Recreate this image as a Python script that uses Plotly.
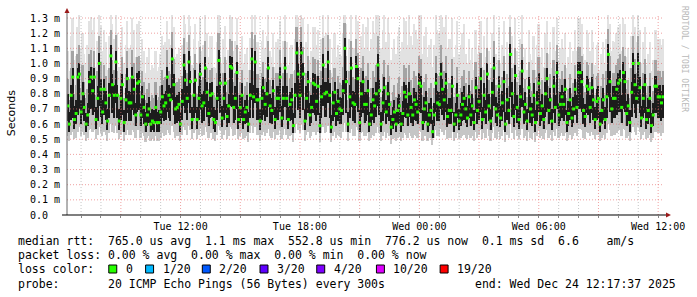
import plotly.graph_objects as go
from datetime import datetime, timedelta

# ---------------- data (values in milliseconds) ----------------
end_time = datetime(2025, 12, 24, 12, 17, 37)
step_s = 300
n_steps = 360
start_time = end_time - timedelta(seconds=step_s * n_steps)

rtt_median = [
    0.72,0.60,0.79,0.91,0.63,0.67,0.91,0.93,0.68,0.80,
    0.71,0.60,0.66,0.88,0.91,0.82,0.91,0.63,0.77,1.00,
    0.83,0.68,0.83,0.74,0.62,0.79,1.05,0.86,0.79,1.01,
    0.79,0.62,0.77,0.86,0.61,0.76,0.90,0.74,0.74,0.91,
    0.83,0.66,0.87,0.88,0.66,0.78,0.71,0.60,0.66,0.70,
    0.60,0.62,0.61,0.71,0.61,0.61,0.68,0.78,0.72,0.74,
    0.91,0.79,0.76,1.03,0.86,0.70,0.71,0.73,0.60,0.75,
    0.99,0.89,0.77,1.01,0.88,0.63,0.79,0.89,0.63,0.77,
    0.93,0.72,0.74,0.97,0.81,0.67,0.79,0.80,0.63,0.61,
    0.77,1.02,0.87,0.64,0.77,0.87,0.65,0.72,0.98,0.97,
    0.71,0.77,0.94,0.63,0.71,0.79,0.63,0.68,0.71,0.60,
    0.79,1.03,0.78,1.01,0.76,0.76,0.62,0.77,0.84,0.73,
    0.80,0.97,0.72,0.69,0.82,0.63,0.77,0.77,0.91,0.64,
    0.77,0.97,0.77,0.63,0.73,0.76,0.59,0.79,1.07,0.93,
    0.79,1.07,0.93,0.62,0.77,0.88,0.66,0.71,0.87,0.86,
    0.75,0.85,0.59,0.78,0.99,0.80,0.81,1.01,0.79,0.58,
    0.74,0.81,0.67,0.75,0.70,0.69,0.82,1.10,0.88,0.60,
    0.78,0.97,0.74,0.73,0.98,0.90,0.61,0.80,0.88,0.73,
    0.73,0.82,0.60,0.66,0.76,0.72,0.80,0.99,0.82,0.60,
    0.74,0.84,0.68,0.80,0.73,0.58,0.63,0.68,0.60,0.69,
    0.72,0.60,0.67,0.81,0.78,0.66,0.80,0.71,0.66,0.76,
    0.73,0.68,0.87,0.85,0.61,0.70,0.74,0.60,0.66,0.69,
    0.55,0.66,0.87,0.74,0.73,0.93,0.83,0.76,0.87,0.65,
    0.69,0.69,0.85,0.60,0.66,0.79,0.62,0.66,0.73,0.77,
    0.70,0.64,0.78,0.66,0.72,0.61,0.84,0.69,0.75,0.90,
    0.63,0.79,0.68,0.93,0.72,0.62,0.81,0.97,0.70,0.66,
    0.85,0.64,0.74,0.88,0.60,0.76,0.69,1.06,0.80,0.65,
    0.92,0.71,0.63,0.78,0.95,0.68,0.73,0.62,0.84,0.70,
    0.66,0.79,0.61,0.74,0.87,0.67,0.72,0.63,0.80,0.90,
    0.69,0.76,0.62,0.85,0.71,0.94,0.66,0.73,0.78,0.73,
    0.83,0.61,0.67,0.76,0.64,0.70,0.83,0.71,0.94,0.94,
    0.88,0.69,0.65,0.85,0.83,0.71,0.84,0.76,0.63,0.75,
    0.77,0.60,0.69,0.76,0.63,0.78,1.06,0.88,0.70,0.77,
    0.77,0.83,0.87,0.89,0.71,0.94,0.88,0.67,0.72,0.61,
    0.81,1.00,0.86,0.77,1.00,0.84,0.64,0.77,0.86,0.63,
    0.69,0.77,0.59,0.66,0.85,0.85,0.78,0.78,0.74,0.78,
]

core_low = [
    0.62,0.55,0.63,0.64,0.57,0.60,0.66,0.70,0.60,0.66,
    0.62,0.55,0.59,0.67,0.70,0.66,0.68,0.57,0.62,0.72,
    0.65,0.60,0.66,0.63,0.56,0.64,0.78,0.67,0.64,0.74,
    0.64,0.56,0.63,0.66,0.55,0.62,0.67,0.62,0.62,0.69,
    0.66,0.59,0.68,0.69,0.59,0.64,0.60,0.55,0.59,0.61,
    0.55,0.56,0.55,0.61,0.55,0.55,0.60,0.64,0.62,0.63,
    0.68,0.64,0.62,0.76,0.66,0.60,0.61,0.62,0.55,0.63,
    0.72,0.67,0.63,0.74,0.67,0.57,0.64,0.67,0.57,0.63,
    0.69,0.61,0.62,0.71,0.65,0.59,0.64,0.65,0.57,0.55,
    0.63,0.75,0.67,0.58,0.63,0.67,0.58,0.61,0.72,0.71,
    0.61,0.63,0.70,0.57,0.61,0.64,0.57,0.60,0.61,0.55,
    0.64,0.76,0.64,0.74,0.63,0.63,0.56,0.63,0.66,0.62,
    0.65,0.71,0.61,0.60,0.66,0.57,0.63,0.63,0.68,0.58,
    0.63,0.71,0.63,0.57,0.62,0.63,0.54,0.64,0.78,0.69,
    0.64,0.78,0.69,0.56,0.63,0.67,0.59,0.61,0.67,0.66,
    0.62,0.66,0.54,0.64,0.72,0.65,0.65,0.74,0.64,0.54,
    0.62,0.65,0.59,0.62,0.60,0.60,0.66,0.80,0.67,0.55,
    0.64,0.71,0.62,0.61,0.72,0.68,0.55,0.65,0.67,0.61,
    0.62,0.66,0.55,0.59,0.63,0.61,0.65,0.72,0.66,0.55,
    0.62,0.67,0.60,0.65,0.62,0.53,0.57,0.60,0.55,0.60,
    0.61,0.55,0.59,0.65,0.64,0.59,0.65,0.61,0.59,0.63,
    0.62,0.60,0.68,0.67,0.56,0.61,0.62,0.55,0.59,0.60,
    0.51,0.59,0.68,0.62,0.62,0.70,0.66,0.63,0.68,0.58,
    0.60,0.60,0.67,0.55,0.59,0.64,0.56,0.59,0.62,0.63,
    0.61,0.58,0.64,0.59,0.62,0.56,0.67,0.60,0.63,0.68,
    0.57,0.64,0.60,0.70,0.62,0.56,0.65,0.72,0.61,0.59,
    0.67,0.58,0.62,0.68,0.55,0.63,0.60,0.78,0.65,0.58,
    0.69,0.61,0.57,0.64,0.71,0.60,0.62,0.56,0.67,0.61,
    0.59,0.64,0.55,0.62,0.68,0.59,0.62,0.57,0.65,0.68,
    0.60,0.63,0.56,0.67,0.61,0.70,0.59,0.62,0.64,0.62,
    0.66,0.55,0.59,0.63,0.58,0.61,0.66,0.61,0.70,0.70,
    0.68,0.60,0.58,0.67,0.66,0.61,0.67,0.63,0.57,0.63,
    0.64,0.55,0.60,0.63,0.57,0.64,0.78,0.68,0.61,0.64,
    0.64,0.66,0.68,0.68,0.61,0.70,0.68,0.59,0.62,0.55,
    0.65,0.73,0.67,0.64,0.73,0.67,0.58,0.64,0.67,0.57,
    0.60,0.64,0.54,0.59,0.67,0.67,0.64,0.64,0.62,0.64,
]

core_high = [
    0.80,0.68,0.86,0.97,0.72,0.76,0.97,1.00,0.76,0.88,
    0.79,0.67,0.74,0.95,0.98,0.89,0.97,0.71,0.85,1.07,
    0.90,0.76,0.90,0.82,0.70,0.87,1.12,0.93,0.86,1.08,
    0.86,0.70,0.85,0.93,0.69,0.84,0.97,0.82,0.81,0.98,
    0.90,0.74,0.94,0.95,0.74,0.85,0.79,0.68,0.74,0.78,
    0.67,0.70,0.69,0.79,0.68,0.69,0.76,0.86,0.80,0.82,
    0.98,0.86,0.84,1.10,0.93,0.78,0.79,0.81,0.68,0.83,
    1.06,0.96,0.85,1.08,0.95,0.71,0.87,0.96,0.71,0.85,
    1.00,0.80,0.82,1.04,0.88,0.75,0.87,0.88,0.71,0.69,
    0.85,1.09,0.94,0.72,0.85,0.94,0.73,0.80,1.05,1.04,
    0.79,0.85,1.01,0.71,0.79,0.87,0.71,0.76,0.79,0.68,
    0.87,1.10,0.86,1.08,0.84,0.84,0.70,0.85,0.91,0.81,
    0.88,1.04,0.80,0.77,0.89,0.71,0.85,0.85,0.98,0.72,
    0.85,1.04,0.85,0.71,0.81,0.84,0.67,0.87,1.14,1.00,
    0.87,1.14,1.00,0.70,0.85,0.95,0.74,0.79,0.94,0.93,
    0.83,0.92,0.67,0.86,1.06,0.88,0.88,1.08,0.87,0.66,
    0.82,0.88,0.75,0.83,0.78,0.77,0.89,1.17,0.95,0.68,
    0.86,1.04,0.82,0.81,1.05,0.97,0.69,0.88,0.95,0.81,
    0.81,0.89,0.68,0.74,0.84,0.80,0.88,1.06,0.89,0.68,
    0.82,0.91,0.76,0.88,0.81,0.66,0.71,0.76,0.68,0.77,
    0.80,0.68,0.75,0.88,0.86,0.74,0.88,0.79,0.74,0.84,
    0.81,0.76,0.94,0.92,0.69,0.78,0.82,0.68,0.74,0.77,
    0.63,0.74,0.94,0.82,0.81,1.00,0.90,0.84,0.94,0.73,
    0.77,0.77,0.92,0.68,0.74,0.87,0.70,0.74,0.81,0.85,
    0.78,0.72,0.86,0.74,0.80,0.69,0.91,0.77,0.83,0.97,
    0.71,0.87,0.76,1.00,0.80,0.70,0.88,1.04,0.78,0.74,
    0.92,0.72,0.82,0.95,0.68,0.84,0.77,1.13,0.88,0.73,
    0.99,0.79,0.71,0.86,1.02,0.76,0.81,0.70,0.91,0.78,
    0.74,0.87,0.69,0.82,0.94,0.75,0.80,0.71,0.88,0.97,
    0.77,0.84,0.70,0.92,0.79,1.01,0.74,0.81,0.86,0.81,
    0.90,0.69,0.75,0.84,0.72,0.78,0.90,0.79,1.01,1.01,
    0.95,0.77,0.73,0.92,0.90,0.79,0.91,0.84,0.71,0.83,
    0.85,0.68,0.77,0.84,0.71,0.86,1.13,0.95,0.78,0.85,
    0.85,0.90,0.94,0.96,0.79,1.01,0.95,0.75,0.80,0.69,
    0.88,1.07,0.93,0.85,1.07,0.91,0.72,0.85,0.93,0.71,
    0.77,0.85,0.67,0.74,0.92,0.92,0.86,0.86,0.82,0.86,
]

smoke_upper = [
    0.90,0.76,0.97,1.08,0.80,0.86,1.06,1.12,0.84,0.99,
    0.88,0.77,0.83,1.06,1.09,0.98,1.08,0.79,0.95,1.18,
    1.01,0.84,0.99,0.92,0.78,0.97,1.22,1.02,0.96,1.19,
    0.95,0.79,0.94,1.04,0.77,0.93,1.08,0.90,0.91,1.09,
    1.00,0.83,1.04,1.05,0.82,0.95,0.88,0.76,0.83,0.87,
    0.75,0.79,0.77,0.88,0.76,0.78,0.85,0.96,0.89,0.91,
    1.09,0.95,0.93,1.21,1.03,0.87,0.88,0.90,0.76,0.92,
    1.17,1.06,0.94,1.19,1.05,0.79,0.97,1.06,0.80,0.94,
    1.11,0.89,0.91,1.15,0.97,0.83,0.96,0.97,0.79,0.77,
    0.94,1.20,1.04,0.80,0.94,1.04,0.81,0.89,1.16,1.15,
    0.88,0.94,1.12,0.79,0.88,0.96,0.79,0.85,0.88,0.76,
    0.96,1.21,0.95,1.19,0.93,0.93,0.78,0.94,1.01,0.90,
    0.97,1.15,0.89,0.85,0.98,0.79,0.94,0.94,1.09,0.80,
    0.94,1.15,0.94,0.79,0.90,0.93,0.75,0.96,1.24,1.11,
    0.96,1.24,1.11,0.78,0.94,1.05,0.82,0.88,1.04,1.03,
    0.92,1.02,0.75,0.95,1.17,0.97,0.97,1.19,0.96,0.74,
    0.91,0.97,0.83,0.92,0.87,0.86,0.98,1.27,1.05,0.76,
    0.95,1.15,0.91,0.90,1.16,1.07,0.77,0.97,1.05,0.90,
    0.92,1.00,0.78,0.84,0.95,0.91,0.99,1.18,1.00,0.78,
    0.93,1.02,0.86,0.99,0.92,0.75,0.81,0.86,0.78,0.87,
    0.91,0.78,0.85,0.99,0.97,0.84,0.99,0.89,0.84,0.95,
    0.92,0.86,1.05,1.03,0.79,0.88,0.93,0.78,0.84,0.87,
    0.72,0.84,1.05,0.93,0.92,1.12,1.01,0.95,1.05,0.83,
    0.87,0.87,1.03,0.78,0.84,0.98,0.80,0.84,0.92,0.96,
    0.87,0.80,0.95,0.82,0.89,0.77,1.01,0.86,0.92,1.07,
    0.79,0.96,0.84,1.10,0.89,0.78,0.97,1.15,0.86,0.82,
    1.02,0.80,0.91,1.05,0.76,0.93,0.85,1.24,0.97,0.81,
    1.10,0.88,0.79,0.95,1.13,0.84,0.90,0.78,1.01,0.87,
    0.82,0.96,0.77,0.91,1.04,0.83,0.89,0.79,0.97,1.07,
    0.85,0.93,0.78,1.02,0.88,1.12,0.82,0.90,0.95,0.90,
    0.99,0.77,0.83,0.93,0.80,0.87,0.99,0.88,1.11,1.11,
    1.05,0.85,0.81,1.01,0.99,0.88,1.00,0.93,0.79,0.92,
    0.94,0.76,0.85,0.93,0.79,0.95,1.23,1.05,0.87,0.94,
    0.94,0.99,1.03,1.06,0.88,1.11,1.05,0.83,0.89,0.77,
    0.97,1.18,1.03,0.94,1.18,1.01,0.80,0.94,1.03,0.79,
    0.85,0.94,0.75,0.82,1.02,1.02,0.95,0.95,0.91,0.95,
]

rtt_min = [
    0.52,0.49,0.53,0.55,0.50,0.51,0.55,0.58,0.52,0.55,
    0.53,0.49,0.51,0.56,0.57,0.55,0.56,0.50,0.53,0.58,
    0.54,0.52,0.55,0.53,0.49,0.54,0.60,0.55,0.54,0.59,
    0.54,0.50,0.53,0.55,0.49,0.53,0.56,0.53,0.53,0.56,
    0.55,0.51,0.56,0.56,0.51,0.54,0.52,0.48,0.51,0.52,
    0.49,0.50,0.49,0.52,0.49,0.49,0.51,0.54,0.52,0.53,
    0.56,0.54,0.53,0.59,0.55,0.51,0.52,0.52,0.49,0.53,
    0.58,0.56,0.53,0.59,0.56,0.50,0.54,0.56,0.50,0.53,
    0.57,0.52,0.53,0.58,0.55,0.51,0.54,0.54,0.50,0.49,
    0.53,0.59,0.56,0.50,0.53,0.56,0.50,0.52,0.58,0.57,
    0.52,0.53,0.57,0.50,0.52,0.54,0.50,0.51,0.52,0.48,
    0.54,0.59,0.54,0.58,0.53,0.53,0.49,0.53,0.55,0.52,
    0.54,0.57,0.52,0.51,0.55,0.50,0.53,0.53,0.56,0.50,
    0.53,0.57,0.53,0.50,0.52,0.53,0.48,0.54,0.60,0.56,
    0.54,0.60,0.56,0.49,0.53,0.55,0.51,0.52,0.55,0.55,
    0.53,0.55,0.48,0.54,0.58,0.54,0.55,0.59,0.54,0.48,
    0.52,0.55,0.51,0.53,0.52,0.51,0.55,0.61,0.55,0.49,
    0.54,0.57,0.52,0.52,0.58,0.56,0.49,0.54,0.55,0.52,
    0.52,0.54,0.49,0.51,0.53,0.52,0.54,0.58,0.54,0.49,
    0.52,0.55,0.51,0.54,0.52,0.47,0.50,0.51,0.49,0.51,
    0.52,0.49,0.51,0.54,0.53,0.51,0.54,0.52,0.51,0.53,
    0.52,0.51,0.56,0.55,0.49,0.52,0.52,0.49,0.51,0.51,
    0.46,0.51,0.56,0.52,0.52,0.57,0.55,0.53,0.56,0.50,
    0.51,0.51,0.55,0.49,0.51,0.54,0.50,0.51,0.52,0.53,
    0.51,0.50,0.53,0.51,0.52,0.49,0.55,0.51,0.53,0.56,
    0.50,0.54,0.51,0.57,0.52,0.49,0.54,0.58,0.51,0.50,
    0.55,0.50,0.52,0.56,0.48,0.53,0.51,0.60,0.54,0.50,
    0.56,0.52,0.50,0.53,0.57,0.51,0.52,0.49,0.55,0.51,
    0.50,0.54,0.48,0.52,0.56,0.51,0.52,0.50,0.54,0.56,
    0.51,0.53,0.49,0.55,0.52,0.57,0.51,0.52,0.54,0.52,
    0.54,0.49,0.51,0.53,0.50,0.52,0.54,0.52,0.57,0.57,
    0.56,0.51,0.50,0.55,0.54,0.52,0.55,0.53,0.50,0.53,
    0.53,0.49,0.51,0.53,0.50,0.54,0.60,0.56,0.52,0.53,
    0.53,0.54,0.56,0.56,0.52,0.57,0.56,0.51,0.52,0.49,
    0.54,0.58,0.55,0.53,0.58,0.55,0.50,0.53,0.55,0.50,
    0.51,0.53,0.48,0.51,0.55,0.55,0.54,0.54,0.52,0.54,
]

rtt_max = [
    1.08,0.95,1.18,1.30,1.02,1.05,1.24,1.32,1.10,1.20,
    1.06,1.00,1.12,1.28,1.31,1.22,1.30,0.98,1.15,1.32,
    1.25,1.08,1.22,1.14,0.96,1.18,1.32,1.26,1.16,1.32,
    1.20,0.98,1.14,1.24,1.00,1.12,1.28,1.10,1.12,1.30,
    1.22,1.04,1.26,1.28,1.02,1.16,1.08,0.94,1.04,1.10,
    0.96,0.99,0.97,1.08,0.95,0.98,1.06,1.18,1.12,1.14,
    1.28,1.16,1.12,1.32,1.24,1.04,1.06,1.10,0.96,1.12,
    1.32,1.26,1.14,1.32,1.25,0.99,1.16,1.26,1.00,1.15,
    1.30,1.08,1.12,1.32,1.20,1.04,1.18,1.18,0.98,0.97,
    1.14,1.32,1.24,1.00,1.16,1.25,1.02,1.09,1.32,1.31,
    1.08,1.15,1.30,0.99,1.08,1.18,1.00,1.06,1.10,0.96,
    1.17,1.32,1.16,1.32,1.14,1.14,0.98,1.15,1.22,1.10,
    1.18,1.32,1.08,1.04,1.20,0.98,1.14,1.16,1.28,1.00,
    1.15,1.32,1.14,0.99,1.10,1.12,0.95,1.16,1.32,1.30,
    1.16,1.32,1.30,0.98,1.14,1.26,1.02,1.08,1.24,1.24,
    1.12,1.22,0.95,1.16,1.32,1.18,1.20,1.32,1.16,0.94,
    1.10,1.20,1.04,1.12,1.06,1.05,1.20,1.32,1.26,0.96,
    1.16,1.32,1.10,1.10,1.32,1.28,0.97,1.18,1.26,1.10,
    1.24,1.30,1.08,1.16,1.28,1.20,1.32,1.32,1.30,1.10,
    1.22,1.32,1.14,1.30,1.20,1.02,1.10,1.16,1.06,1.18,
    1.24,1.08,1.14,1.30,1.28,1.12,1.32,1.18,1.12,1.26,
    1.22,1.16,1.32,1.32,1.06,1.18,1.24,1.04,1.12,1.16,
    0.98,1.12,1.32,1.22,1.20,1.32,1.30,1.24,1.32,1.10,
    1.16,1.16,1.30,1.04,1.12,1.28,1.06,1.12,1.20,1.26,
    1.06,1.00,1.16,1.02,1.10,0.96,1.22,1.06,1.12,1.28,
    0.98,1.18,1.04,1.30,1.08,0.97,1.20,1.32,1.06,1.02,
    1.24,1.00,1.12,1.28,0.95,1.14,1.06,1.32,1.18,1.00,
    1.30,1.08,0.98,1.16,1.32,1.04,1.10,0.96,1.22,1.06,
    1.02,1.18,0.96,1.12,1.26,1.04,1.10,0.98,1.20,1.28,
    1.06,1.14,0.97,1.24,1.08,1.30,1.02,1.10,1.16,1.10,
    1.20,0.97,1.04,1.14,1.00,1.08,1.22,1.08,1.30,1.30,
    1.26,1.06,1.02,1.22,1.20,1.08,1.22,1.14,0.99,1.12,
    1.14,0.96,1.06,1.14,1.00,1.16,1.32,1.26,1.08,1.15,
    1.14,1.20,1.24,1.26,1.08,1.30,1.26,1.04,1.10,0.97,
    1.18,1.32,1.24,1.14,1.32,1.22,1.00,1.14,1.24,0.99,
    1.06,1.14,0.95,1.02,1.22,1.22,1.16,1.16,1.12,1.16,
]

y_tick_values = [0.0,0.1,0.2,0.3,0.4,0.5,0.6,0.7,0.8,0.9,1.0,1.1,1.2,1.3]
y_tick_labels = ["0.0\u00a0\u00a0","0.1 m","0.2 m","0.3 m","0.4 m","0.5 m","0.6 m",
                 "0.7 m","0.8 m","0.9 m","1.0 m","1.1 m","1.2 m","1.3 m"]

loss_labels = ["0", "1/20", "2/20", "3/20", "4/20", "10/20", "19/20"]
loss_colors = ["#26ff00", "#00b8ff", "#0059ff", "#5e00ff", "#7e00ff", "#dd00ff", "#ff0000"]

legend_lines = [
    "median rtt:  765.0 us avg  1.1 ms max  552.8 us min  776.2 us now  0.1 ms sd  6.6    am/s",
    "packet loss: 0.00 % avg  0.00 % max  0.00 % min  0.00 % now",
    "loss color:",
    "probe:       20 ICMP Echo Pings (56 Bytes) every 300s",
]
end_label = "end: Wed Dec 24 12:17:37 2025"

# ---------------- geometry helpers ----------------
W, H = 697, 297
PL, PR, PT, PB = 67, 667, 15, 215  # plot area in pixels


def px(x):
    return (x - PL) / (PR - PL)


def py(y):
    return (PB - y) / (PB - PT)


MONO = "DejaVu Sans Mono"

n = min(len(rtt_median), len(core_low), len(core_high), len(rtt_min), len(rtt_max), len(smoke_upper))
times = [start_time + timedelta(seconds=step_s * (i + 0.5)) for i in range(n)]
bar_w = step_s * 1000


def band(lo, hi, color, width):
    return go.Bar(x=times, base=lo[:n], y=[hi[i] - lo[i] for i in range(n)],
                  width=width, marker=dict(color=color, line=dict(width=0)),
                  hoverinfo="skip", showlegend=False)


fig = go.Figure()
fig.add_trace(band(rtt_min, rtt_max, "#e2e2e2", bar_w))          # outer smoke
fig.add_trace(band(rtt_min, core_low, "#c6c6c6", bar_w))         # lower smoke
fig.add_trace(band(core_low, smoke_upper, "#a4a4a4", bar_w))     # inner smoke
fig.add_trace(band(core_low, core_high, "#1c1c1c", bar_w * 0.8))  # densest pings
fig.add_trace(go.Scatter(
    x=times, y=rtt_median[:n], mode="markers",
    marker=dict(symbol="square", size=3, color="#26ff00", line=dict(width=0)),
    hoverinfo="skip", showlegend=False))

# ---------------- grid (drawn above the smoke, as rrdtool does) ----------------
shapes = []
first_hour = start_time.replace(minute=0, second=0) + timedelta(hours=1)
hours = []
t = first_hour
while t <= end_time:
    hours.append(t)
    t += timedelta(hours=1)

for h in hours:
    major = (h.hour % 3 == 0)
    shapes.append(dict(type="line", xref="x", yref="paper", x0=h, x1=h, y0=0, y1=1,
                       line=dict(color="rgba(230,110,110,0.65)" if major else "rgba(150,150,150,0.55)",
                                 width=1, dash="1px,2px"), layer="above"))
for v in y_tick_values[1:]:
    shapes.append(dict(type="line", xref="paper", yref="y", x0=0, x1=1, y0=v, y1=v,
                       line=dict(color="rgba(230,110,110,0.65)", width=1, dash="1px,2px"),
                       layer="above"))

# axes lines and arrows
shapes.append(dict(type="line", xref="paper", yref="paper", x0=px(67), x1=px(67), y0=py(215), y1=py(11),
                   line=dict(color="#666666", width=1), layer="above"))
shapes.append(dict(type="line", xref="paper", yref="paper", x0=px(62), x1=px(669), y0=py(215), y1=py(215),
                   line=dict(color="#000000", width=1.2), layer="above"))
shapes.append(dict(type="path", xref="paper", yref="paper",
                   path=f"M {px(64.5)} {py(13)} L {px(69.5)} {py(13)} L {px(67)} {py(8)} Z",
                   fillcolor="#9a1a1a", line=dict(width=0), layer="above"))
shapes.append(dict(type="path", xref="paper", yref="paper",
                   path=f"M {px(669)} {py(212.5)} L {px(669)} {py(217.5)} L {px(674)} {py(215)} Z",
                   fillcolor="#9a1a1a", line=dict(width=0), layer="above"))

# ---------------- annotations ----------------
annotations = []
legend_y = [241, 255, 269, 284]
for txt, yy in zip(legend_lines, legend_y):
    annotations.append(dict(x=px(16), y=py(yy), xref="paper", yref="paper", xanchor="left",
                            yanchor="middle", showarrow=False, text=txt.replace(" ", "\u00a0"),
                            font=dict(family=MONO, size=11.5, color="#000000")))
annotations.append(dict(x=px(681), y=py(284), xref="paper", yref="paper", xanchor="right",
                        yanchor="middle", showarrow=False, text=end_label.replace(" ", "\u00a0"),
                        font=dict(family=MONO, size=11.5, color="#000000")))

box_x = [109, 146, 203, 261, 318, 378, 442]
for lbl, col, bx in zip(loss_labels, loss_colors, box_x):
    shapes.append(dict(type="rect", xref="paper", yref="paper",
                       x0=px(bx), x1=px(bx + 8), y0=py(273), y1=py(265),
                       fillcolor=col, line=dict(color="#000000", width=1)))
    annotations.append(dict(x=px(bx + 15), y=py(269), xref="paper", yref="paper", xanchor="left",
                            yanchor="middle", showarrow=False, text=lbl,
                            font=dict(family=MONO, size=11.5, color="#000000")))

annotations.append(dict(x=px(11), y=py(113), xref="paper", yref="paper", xanchor="center",
                        yanchor="middle", showarrow=False, text="Seconds", textangle=-90,
                        font=dict(family="DejaVu Sans", size=11, color="#000000")))
annotations.append(dict(x=px(687), y=py(59), xref="paper", yref="paper", xanchor="center",
                        yanchor="middle", showarrow=False, text="RRDTOOL / TOBI OETIKER", textangle=90,
                        font=dict(family=MONO, size=8, color="#b8b8b8")))

tick_text = [h.strftime("%a %H:%M") if h.hour % 6 == 0 else "" for h in hours]

fig.update_layout(
    width=W, height=H,
    margin=dict(l=PL, r=W - PR, t=PT, b=H - PB),
    paper_bgcolor="#ffffff", plot_bgcolor="#ffffff",
    barmode="overlay", bargap=0,
    shapes=shapes, annotations=annotations,
    xaxis=dict(type="date", range=[start_time, end_time], showgrid=False, zeroline=False,
               showline=False, tickvals=hours, ticktext=tick_text, ticks="outside",
               ticklen=2, tickcolor="#888888", tickfont=dict(family=MONO, size=10, color="#000000"),
               fixedrange=True),
    yaxis=dict(range=[0, 1.32], showgrid=False, zeroline=False, showline=False,
               tickvals=y_tick_values, ticktext=y_tick_labels, ticks="",
               ticklabelstandoff=6,
               tickfont=dict(family=MONO, size=10, color="#000000"), fixedrange=True),
    showlegend=False,
)

fig.write_html("out.html")
